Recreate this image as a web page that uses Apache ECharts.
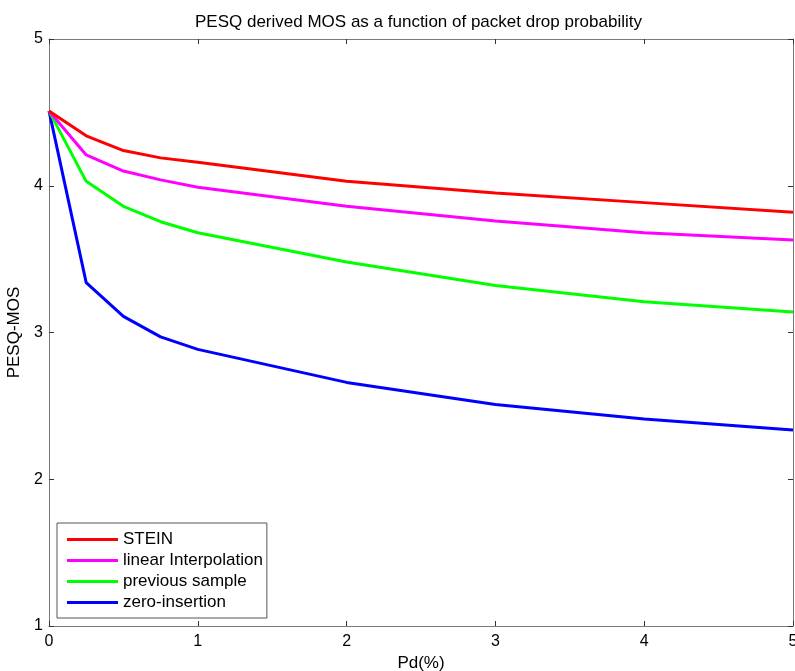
<!DOCTYPE html>
<html>
<head>
<meta charset="utf-8">
<script src="https://cdn.jsdelivr.net/npm/echarts@6/dist/echarts.min.js"></script>
<style>html,body{margin:0;padding:0;background:#fff}#c{width:795px;height:671px}</style>
</head>
<body>
<div id="c"></div>
<script>
const pd = [0, 0.25, 0.5, 0.75, 1, 2, 3, 4, 5];
const stein = [4.51, 4.34, 4.24, 4.19, 4.16, 4.03, 3.95, 3.885, 3.82];
const linearInterp = [4.51, 4.21, 4.10, 4.04, 3.99, 3.86, 3.76, 3.68, 3.63];
const previousSample = [4.51, 4.03, 3.86, 3.755, 3.68, 3.48, 3.32, 3.21, 3.14];
const zeroInsertion = [4.51, 3.34, 3.11, 2.97, 2.885, 2.66, 2.51, 2.41, 2.335];
const seriesNames = ['STEIN', 'linear Interpolation', 'previous sample', 'zero-insertion'];
const seriesColors = ['#ff0000', '#ff00ff', '#00ff00', '#0000ff'];
const xTicks = [0, 1, 2, 3, 4, 5];
const yTicks = [1, 2, 3, 4, 5];

const allValues = [stein, linearInterp, previousSample, zeroInsertion];
const font = 'Liberation Sans, Arial, sans-serif';
const axisColor = '#7a7a7a';

const chart = echarts.init(document.getElementById('c'));
const baseAxis = {
  axisLine: {show: true, onZero: false, lineStyle: {color: axisColor, width: 1}},
  axisTick: {show: true, inside: true, length: 5, lineStyle: {color: '#333'}},
  splitLine: {show: false}
};
chart.setOption({
  animation: false,
  backgroundColor: '#fff',
  title: {
    text: 'PESQ derived MOS as a function of packet drop probability',
    left: 190, top: 9,
    textStyle: {fontFamily: font, fontSize: 17, fontWeight: 'normal', color: '#000'}
  },
  grid: {left: 49, right: 2, top: 39, bottom: 45, containLabel: false, outerBoundsMode: 'none'},
  legend: {
    orient: 'vertical', left: 57, top: 523,
    itemWidth: 51, itemHeight: 3, itemGap: 4, itemTextGap: 5,
    icon: 'rect',
    padding: [8, 4, 7, 10],
    borderColor: '#555', borderWidth: 1, backgroundColor: '#fff',
    textStyle: {fontFamily: font, fontSize: 17, color: '#000', lineHeight: 17},
    data: seriesNames
  },
  xAxis: [
    Object.assign({}, baseAxis, {
      type: 'value', min: xTicks[0], max: xTicks[xTicks.length - 1], interval: 1,
      position: 'bottom',
      name: 'Pd(%)', nameLocation: 'middle', nameGap: 26,
      nameTextStyle: {fontFamily: font, fontSize: 17, color: '#000'},
      axisLabel: {fontFamily: font, fontSize: 16, color: '#000', margin: 8}
    }),
    Object.assign({}, baseAxis, {
      type: 'value', min: xTicks[0], max: xTicks[xTicks.length - 1], interval: 1,
      position: 'top', axisLabel: {show: false}
    })
  ],
  yAxis: [
    Object.assign({}, baseAxis, {
      type: 'value', min: yTicks[0], max: yTicks[yTicks.length - 1], interval: 1,
      position: 'left',
      name: 'PESQ-MOS', nameLocation: 'middle', nameGap: 24, nameRotate: 90,
      nameTextStyle: {fontFamily: font, fontSize: 17, color: '#000'},
      axisLabel: {fontFamily: font, fontSize: 16, color: '#000', margin: 6}
    }),
    Object.assign({}, baseAxis, {
      type: 'value', min: yTicks[0], max: yTicks[yTicks.length - 1], interval: 1,
      position: 'right', axisLabel: {show: false}
    })
  ],
  series: allValues.map((vals, i) => ({
    name: seriesNames[i],
    type: 'line',
    xAxisIndex: 0, yAxisIndex: 0,
    data: pd.map((x, j) => [x, vals[j]]),
    showSymbol: false, symbol: 'none',
    lineStyle: {color: seriesColors[i], width: 3},
    itemStyle: {color: seriesColors[i]},
    z: 10 - i
  }))
});
</script>
</body>
</html>
